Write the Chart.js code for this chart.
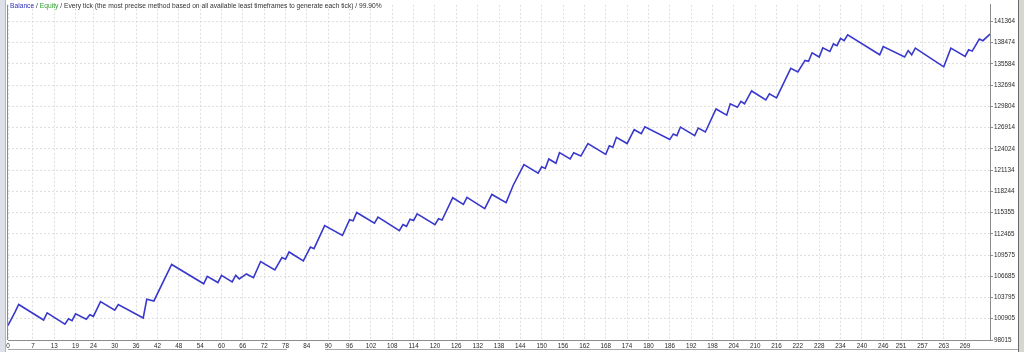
<!DOCTYPE html>
<html>
<head>
<meta charset="utf-8">
<script src="https://cdn.jsdelivr.net/npm/chart.js@4/dist/chart.umd.min.js"></script>
<style>
  html, body { margin: 0; padding: 0; background: #ffffff; overflow: hidden; }
  #wrap { position: relative; width: 1024px; height: 352px; }
  #c { position: absolute; left: 0; top: 0; }
  #hdr { position: absolute; left: 10px; top: 1px; font-family: "Liberation Sans", Arial, sans-serif;
         font-size: 6.7px; line-height: 9px; color: #333333; white-space: nowrap; }
  #hdr .bal { color: #3030c0; }
  #hdr .eq { color: #2ea02e; }
  .chrome { position: absolute; }
</style>
</head>
<body>
<div id="wrap">
  <canvas id="c" width="1024" height="352"></canvas>
  <div id="hdr"><span class="bal">Balance</span> / <span class="eq">Equity</span> / Every tick (the most precise method based on all available least timeframes to generate each tick) / 99.90%</div>
  <div class="chrome" style="left:0;top:0;width:5px;height:352px;background:#dde0e6;"></div>
  <div class="chrome" style="left:5px;top:0;width:1px;height:352px;background:#b4b8c0;"></div>
  <div class="chrome" style="left:1018px;top:0;width:1px;height:352px;background:#6a6a6a;"></div>
  <div class="chrome" style="left:1019px;top:0;width:5px;height:352px;background:#d8d6d0;"></div>
  <div class="chrome" style="left:8px;top:349px;width:279px;height:1px;background:#a8a8a8;"></div>
  <div class="chrome" style="left:325px;top:349px;width:693px;height:1px;background:#a8a8a8;"></div>
</div>
<script>
// Trade numbers at the turning points of the balance line
const TRADE_IDX = [0, 2, 3, 10, 11, 16, 17, 18, 19, 22, 23, 24, 26, 30, 31, 38, 39, 41, 46, 55,
  56, 59, 60, 63, 64, 65, 67, 69, 71, 75, 77, 78, 79, 83, 85, 86, 89, 94, 96, 97,
  98, 103, 104, 110, 111, 112, 113, 114, 115, 120, 121, 122, 125, 128, 129, 134, 136, 140, 142, 145,
  149, 150, 151, 152, 154, 155, 158, 159, 161, 163, 168, 169, 170, 171, 174, 176, 178, 179, 186, 187,
  188, 189, 193, 194, 196, 199, 202, 203, 205, 206, 207, 209, 213, 214, 216, 220, 222, 224, 225, 226,
  228, 229, 231, 232, 233, 234, 235, 236, 245, 246, 252, 253, 254, 255, 263, 265, 269, 270, 271, 273,
  274, 276];
// Balance at those trades
const BALANCE = [100000, 101850, 102843, 100737, 101716, 100161, 100912, 100643, 101582, 100831,
  101448, 101233, 103245, 102078, 102843, 101005, 103553, 103325, 108287, 105659,
  106678, 105833, 106812, 105927, 106812, 106329, 107000, 106504, 108689, 107536,
  109226, 109011, 109990, 108783, 110661, 110433, 113571, 112230, 114375, 114241,
  115354, 113919, 114724, 112900, 113705, 113477, 114456, 114281, 115180, 113705,
  114509, 114322, 117366, 116467, 117406, 115891, 117808, 116695, 119069, 121885,
  120718, 121563, 121348, 122636, 122059, 123494, 122636, 123494, 123038, 124741,
  123266, 124433, 124245, 125586, 124741, 126619, 126082, 127021, 125278, 126042,
  125814, 126981, 125814, 126847, 126310, 129435, 128603, 130132, 129663, 130467,
  130145, 131889, 130682, 131486, 130937, 134973, 134463, 136046, 135912, 137078,
  136502, 137749, 137253, 138285, 138057, 139050, 138728, 139532, 136810, 137923,
  136502, 137387, 136810, 137709, 135161, 137709, 136582, 137481, 137306, 138956,
  138728, 139626];
const X_TICKS = [0, 7, 13, 19, 24, 30, 36, 42, 48, 54, 60, 66, 72, 78, 84, 90, 96, 102, 108, 114,
  120, 126, 132, 138, 144, 150, 156, 162, 168, 174, 180, 186, 192, 198, 204, 210, 216, 222, 228,
  234, 240, 246, 251, 257, 263, 269];
const Y_TICKS = ['98015', '100905', '103795', '106685', '109575', '112465', '115355', '118244',
  '121134', '124024', '126914', '129804', '132694', '135584', '138474', '141364'];
const X_MAX = 276;
const Y_MIN = 98015;
const Y_MAX = 143611;

const GRID = '#dedede';
const AXIS = '#8c8c8c';
const FONT = { family: '"Liberation Sans", Arial, sans-serif', size: 6.3 };

const framePlugin = {
  id: 'frame',
  afterDraw(chart) {
    const { ctx, chartArea: a } = chart;
    ctx.save();
    ctx.strokeStyle = AXIS;
    ctx.lineWidth = 1;
    ctx.beginPath();
    ctx.moveTo(Math.round(a.left) - 0.5, a.top);
    ctx.lineTo(Math.round(a.left) - 0.5, a.bottom);
    ctx.stroke();
    ctx.restore();
  }
};

new Chart(document.getElementById('c'), {
  type: 'line',
  data: {
    datasets: [{
      label: 'Balance',
      data: TRADE_IDX.map((x, i) => ({ x: x, y: BALANCE[i] })),
      borderColor: '#3838cc',
      borderWidth: 1.6,
      pointRadius: 0,
      tension: 0,
      fill: false
    }]
  },
  options: {
    responsive: false,
    animation: false,
    devicePixelRatio: 1,
    layout: { padding: { left: 8, top: 0, right: 0, bottom: 0 } },
    plugins: { legend: { display: false }, tooltip: { enabled: false }, title: { display: false } },
    scales: {
      x: {
        type: 'linear',
        position: 'bottom',
        min: 0,
        max: X_MAX,
        afterBuildTicks: (s) => { s.ticks = X_TICKS.map(v => ({ value: v })); },
        afterFit: (s) => { s.height = 12; },
        grid: { color: GRID, lineWidth: 1, drawTicks: false },
        border: { display: true, color: AXIS, dash: [2, 2] },
        ticks: { font: FONT, color: '#2a2a2a', padding: 2, maxRotation: 0, autoSkip: false,
                 callback: (v) => String(v) }
      },
      y: {
        type: 'linear',
        position: 'right',
        min: Y_MIN,
        max: Y_MAX,
        afterBuildTicks: (s) => { s.ticks = Y_TICKS.map(t => ({ value: Number(t) })); },
        afterFit: (s) => { s.width = 34; },
        grid: { color: GRID, lineWidth: 1, drawTicks: true, tickLength: 3, tickColor: AXIS, tickBorderDash: [] },
        border: { display: true, color: AXIS, dash: [2, 2] },
        ticks: { font: FONT, color: '#2a2a2a', padding: 1, autoSkip: false,
                 callback: (v) => { const i = Y_TICKS.findIndex(t => Number(t) === v); return i >= 0 ? Y_TICKS[i] : ''; } }
      }
    }
  },
  plugins: [framePlugin]
});
</script>
</body>
</html>
